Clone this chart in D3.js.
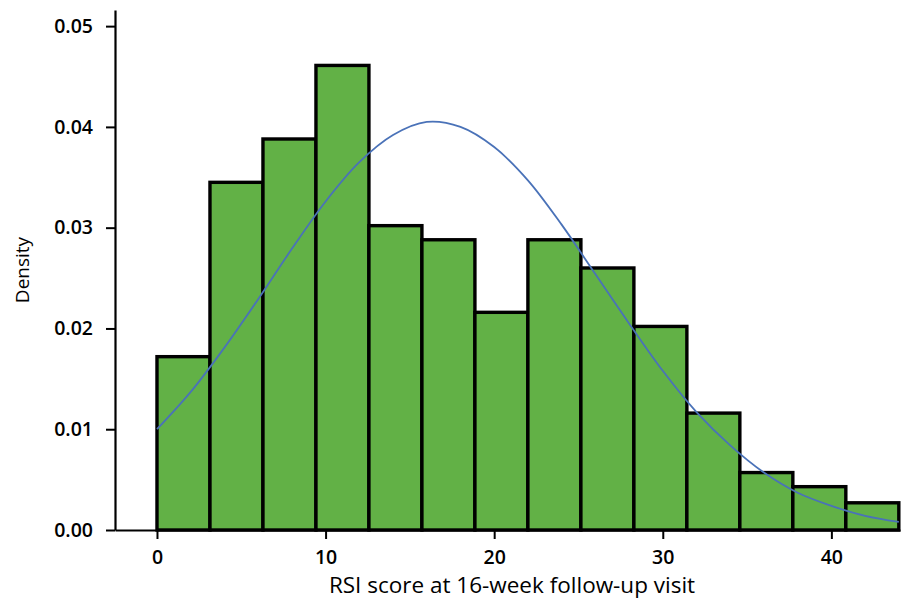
<!DOCTYPE html>
<html>
<head>
<meta charset="utf-8">
<script src="https://cdn.jsdelivr.net/npm/d3@7"></script>
<style>
  body { margin: 0; background: #fff; }
  svg text { font-family: "Open Sans", "Noto Sans", sans-serif; fill: #000; }
</style>
</head>
<body>
<div id="chart"></div>
<script>
// histogram: 14 bins from 0 to 44
var binEdges = [0, 3.143, 6.286, 9.429, 12.571, 15.714, 18.857, 22, 25.143, 28.286, 31.429, 34.571, 37.714, 40.857, 44];
var densities = [0.0172, 0.0345, 0.0388, 0.0461, 0.0302, 0.0288, 0.0216, 0.0288, 0.0260, 0.0202, 0.0116, 0.0057, 0.0043, 0.0027];

// fitted normal curve
var curveX = [0, 2, 4, 6, 8, 10, 12, 14, 16, 18, 20, 22, 24, 26, 28, 30, 32, 34, 36, 38, 40, 42, 44];
var curveY = [0.0100, 0.0137, 0.0181, 0.0229, 0.0279, 0.0326, 0.0365, 0.0392, 0.0405, 0.0400, 0.0380, 0.0347, 0.0303, 0.0254, 0.0205, 0.0158, 0.0117, 0.0084, 0.0057, 0.0037, 0.0024, 0.0014, 0.0008];

var xTicks = [0, 10, 20, 30, 40];
var yTicks = [0, 0.01, 0.02, 0.03, 0.04, 0.05];

var width = 903, height = 601;

var svg = d3.select("#chart").append("svg")
  .attr("width", width)
  .attr("height", height);

var x = d3.scaleLinear().domain([-2.49, 44.07]).range([115, 900]);
var y = d3.scaleLinear().domain([0, 0.0516]).range([530, 10]);

// bars
var bins = densities.map(function (d, i) {
  return { x0: binEdges[i], x1: binEdges[i + 1], d: d };
});

svg.append("g").selectAll("rect")
  .data(bins)
  .enter().append("rect")
  .attr("x", function (b) { return x(b.x0); })
  .attr("y", function (b) { return y(b.d); })
  .attr("width", function (b) { return x(b.x1) - x(b.x0); })
  .attr("height", function (b) { return y(0) - y(b.d); })
  .attr("fill", "#62b146")
  .attr("stroke", "#000")
  .attr("stroke-width", 3.4)
  .attr("stroke-linejoin", "miter");

// normal curve
var pts = curveX.map(function (v, i) { return [v, curveY[i]]; });
var line = d3.line()
  .x(function (p) { return x(p[0]); })
  .y(function (p) { return y(p[1]); })
  .curve(d3.curveCatmullRom);

svg.append("path")
  .datum(pts)
  .attr("d", line)
  .attr("fill", "none")
  .attr("stroke", "#4a72b8")
  .attr("stroke-width", 1.8);

// axes
var xAxis = svg.append("g")
  .attr("transform", "translate(0," + y(0) + ")")
  .call(d3.axisBottom(x).tickValues(xTicks).tickSize(9).tickPadding(11).tickSizeOuter(0));

var yAxis = svg.append("g")
  .attr("transform", "translate(" + x.range()[0] + ",0)")
  .call(d3.axisLeft(y).tickValues(yTicks).tickFormat(d3.format(".2f")).tickSize(9).tickPadding(13).tickSizeOuter(0));

[xAxis, yAxis].forEach(function (g) {
  g.selectAll("path.domain").attr("stroke", "#000").attr("stroke-width", 2.2);
  g.selectAll(".tick line").attr("stroke", "#000").attr("stroke-width", 2);
  g.selectAll(".tick text")
    .attr("fill", "#000")
    .style("font-size", "19.5px")
    .style("font-weight", "600");
});

// titles
svg.append("text")
  .attr("x", 512)
  .attr("y", 593)
  .attr("text-anchor", "middle")
  .style("font-size", "22.5px")
  .text("RSI score at 16-week follow-up visit");

svg.append("text")
  .attr("transform", "translate(29,270) rotate(-90)")
  .attr("text-anchor", "middle")
  .style("font-size", "19px")
  .text("Density");
</script>
</body>
</html>
